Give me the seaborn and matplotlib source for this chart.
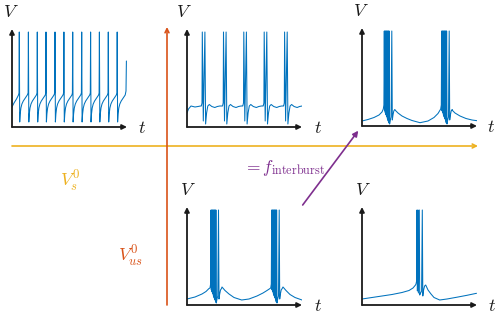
"""
plot.py - firing regimes sketch: tonic, doublets, bursting, in a (V_s^0, V_us^0) plane.
"""
import matplotlib
matplotlib.use("Agg")
import matplotlib.pyplot as plt
import pandas as pd
import seaborn as sns

# ---- data (time / voltage in panel units) ----
# tonic spiking: one cycle shape, repeated at the spike times
tonic_spike_t = [7.3, 16.4, 25.3, 34.0, 43.0, 51.9, 60.7, 69.7, 78.6, 87.4, 96.3, 105.2]
tonic_cycle_dt = [-0.3, 0.0, 0.4, 0.9, 1.6, 2.6, 4.0, 6.0, 8.0]
tonic_cycle_v = [34, 95, 5, 13, 19, 23, 26, 29, 32]
tonic_base_t = [0.0, 2.0, 4.5, 6.5, 114.0, 114.4]
tonic_base_v = [20, 24, 28, 32, 36, 66]

# doublets
doublet_t = [15.3, 36.5, 56.8, 77.2, 97.6]
doublet_dt = [-1.0, -0.3, 0.0, 1.0, 2.6, 3.3, 4.3, 5.5, 7.0, 9.5, 12.5, 15.0, 17.5, 19.0]
doublet_v = [21, 24, 95, 6, 95, 3, 14, 21, 22.5, 20.5, 19.5, 20.5, 21, 21]
doublet_base_t = [0.0, 1.5, 4.0, 8.0, 11.0, 13.5]
doublet_base_v = [14, 18, 21, 20, 20.5, 21]

# bursts (same burst shape in both bursting panels)
burst_dt = [-1.0, -0.4, 0.0, 0.35, 0.7, 1.05, 1.4, 1.75, 2.1, 2.45, 2.8, 3.15, 3.5,
            3.85, 4.2, 4.55, 4.9, 5.3, 6.0, 6.8, 7.5, 8.0, 8.7, 9.5, 10.5]
burst_v = [17, 21, 95, 15, 95, 13, 95, 11, 95, 9, 95, 7, 95,
           5, 95, 3, 95, 2, 6, 9, 95, 6, 11, 15, 16.5]

burst_top_t = [22.3, 79.7]
burst_top_base_t = [0, 6, 12, 17, 20, 33.5, 36, 40, 45, 50, 58, 66, 72, 76,
                    90.5, 93, 98, 104, 110, 115]
burst_top_base_v = [5, 6.5, 8.5, 11, 14, 15.5, 13, 10, 7.5, 5.5, 3.3, 5, 8.5, 12.5,
                    15.5, 13, 10, 7.5, 6, 5.3]

burst_bot_t = [24.0, 84.7]
burst_bot_base_t = [0, 8, 15, 19, 22, 35, 38, 42, 47, 54.7, 62, 70, 76, 80, 83,
                    96, 99, 103, 108, 115]
burst_bot_base_v = [6, 8, 11, 13.5, 16.5, 18, 14.5, 11, 7.5, 5, 6, 9, 12, 14.5, 16.5,
                    18, 14.5, 10.5, 7.5, 5]

# single short burst
single_t = [55.0]
single_dt = [-1.0, -0.4, 0.0, 0.4, 1.0, 1.4, 2.3, 2.7, 3.6, 4.6, 5.3, 5.8, 6.6, 7.6, 8.7]
single_v = [21, 24, 95, 14, 95, 12, 95, 10, 12, 14, 95, 9, 15, 19, 20]
single_base_t = [0, 10, 20, 30, 40, 47, 51, 53.5, 66, 69, 72, 77.7, 85, 95, 105, 114.5]
single_base_v = [6, 7.5, 9, 10.5, 12.5, 14.5, 17, 20, 15, 11, 7.5, 5, 6, 7.8, 9.7, 11.7]

BLUE = "#0072BD"
YELLOW = "#EDB120"
ORANGE = "#D95319"
PURPLE = "#7E2F8E"
AXIS = "#1a1a1a"

W, H = 501, 316


def assemble(base_t, base_v, onsets, dt, v):
    """Merge slow baseline points with event shapes placed at the onsets."""
    windows = [(o + dt[0], o + dt[-1]) for o in onsets]
    rows = [(a, b) for a, b in zip(base_t, base_v)
            if not any(lo <= a <= hi for lo, hi in windows)]
    for o in onsets:
        rows += [(o + d, y) for d, y in zip(dt, v)]
    rows.sort(key=lambda r: r[0])
    return pd.DataFrame(rows, columns=["t", "V"])


sns.set_theme(style="white")
plt.rcParams["mathtext.fontset"] = "cm"
plt.rcParams["font.family"] = ["DejaVu Sans"]

fig = plt.figure(figsize=(W / 100, H / 100), dpi=100)
ov = fig.add_axes([0, 0, 1, 1])
ov.set_xlim(0, W)
ov.set_ylim(H, 0)
ov.axis("off")

# (origin x, origin y, trace, V label x, t label x)
panels = [
    (12, 127, assemble(tonic_base_t, tonic_base_v, tonic_spike_t, tonic_cycle_dt, tonic_cycle_v), 11, 142),
    (187, 127, assemble(doublet_base_t, doublet_base_v, doublet_t, doublet_dt, doublet_v), 184, 318),
    (362, 126, assemble(burst_top_base_t, burst_top_base_v, burst_top_t, burst_dt, burst_v), 361, 491),
    (187, 305, assemble(burst_bot_base_t, burst_bot_base_v, burst_bot_t, burst_dt, burst_v), 188, 318),
    (362, 305, assemble(single_base_t, single_base_v, single_t, single_dt, single_v), 363, 492),
]

for ox, oy, df, vx, tx in panels:
    ax = fig.add_axes([ox / W, (H - oy) / H, 115 / W, 98 / H])
    sns.lineplot(data=df, x="t", y="V", ax=ax, color=BLUE, linewidth=0.75,
                 sort=False, estimator=None)
    ax.set_xlim(0, 115)
    ax.set_ylim(0, 98)
    ax.axis("off")
    ax.patch.set_alpha(0)
    arrow = dict(arrowstyle="-|>", color=AXIS, lw=1.3, mutation_scale=7,
                 shrinkA=0, shrinkB=0)
    ax.annotate("", xy=(115, 0), xytext=(0, 0), arrowprops=arrow, annotation_clip=False)
    ax.annotate("", xy=(0, 98), xytext=(0, 0), arrowprops=arrow, annotation_clip=False)
    ov.text(vx, oy - 115, r"$V$", fontsize=13, color=AXIS, ha="center", va="center")
    ov.text(tx, oy + 1, r"$t$", fontsize=13, color=AXIS, ha="center", va="center")

# parameter axes
ov.annotate("", xy=(478, 146), xytext=(12, 146),
            arrowprops=dict(arrowstyle="->", color=YELLOW, lw=1.2, mutation_scale=7,
                            shrinkA=0, shrinkB=0))
ov.annotate("", xy=(167, 27), xytext=(167, 305),
            arrowprops=dict(arrowstyle="->", color=ORANGE, lw=1.2, mutation_scale=7,
                            shrinkA=0, shrinkB=0))
ov.text(70, 181, r"$V_s^0$", fontsize=13, color=YELLOW, ha="center", va="center")
ov.text(131, 256, r"$V_{us}^0$", fontsize=13, color=ORANGE, ha="center", va="center")

# interburst frequency arrow
ov.annotate("", xy=(358.3, 130.7), xytext=(302.7, 205),
            arrowprops=dict(arrowstyle="-|>", color=PURPLE, lw=1.2, mutation_scale=8,
                            shrinkA=0, shrinkB=0))
ov.text(284, 168, r"$= f_{\mathrm{interburst}}$", fontsize=12.5, color=PURPLE,
        ha="center", va="center")

fig.savefig("out.png", dpi=100)
